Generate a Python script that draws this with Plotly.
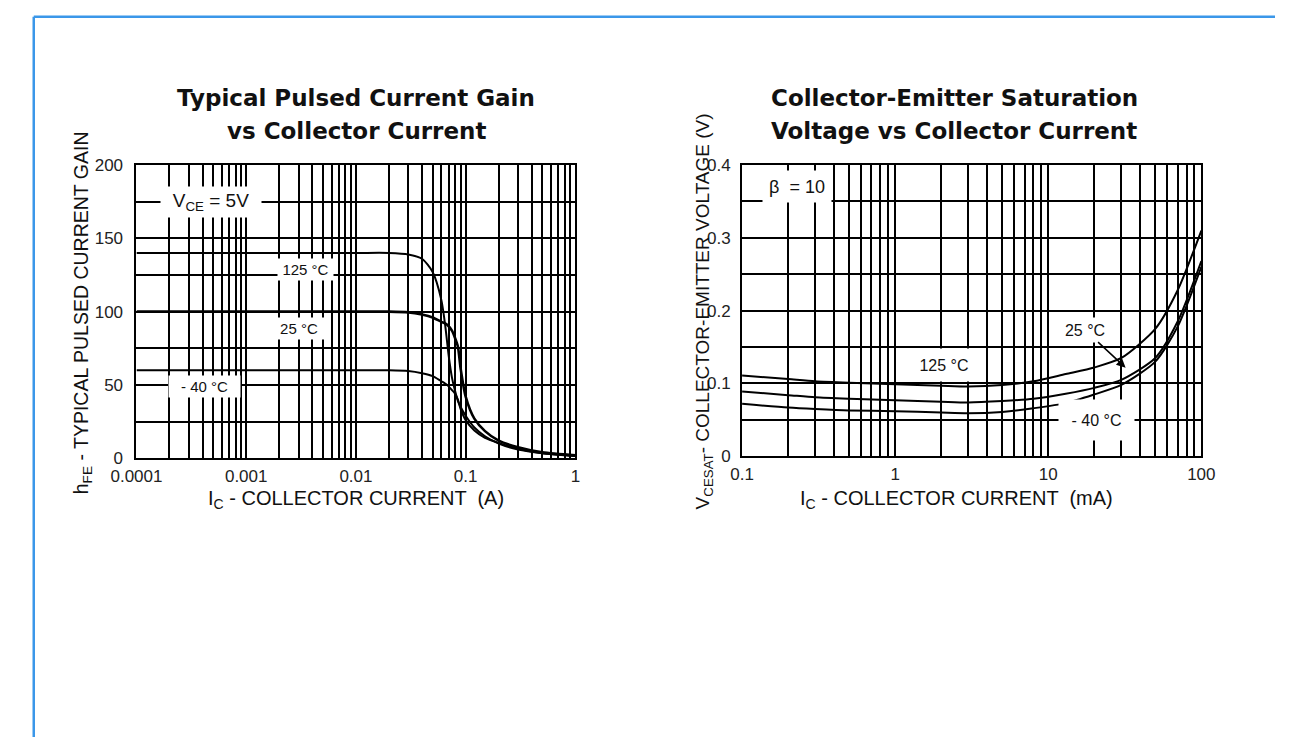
import math
import plotly.graph_objects as go

W, H = 1289, 747

# ---------------- Left chart: hFE vs Ic (A) ----------------
ic_a = [0.0001, 0.001, 0.01, 0.02, 0.03, 0.04, 0.05, 0.06, 0.065, 0.07, 0.075,
        0.08, 0.085, 0.09, 0.1, 0.12, 0.15, 0.2, 0.3, 0.5, 1.0]
hfe_125 = [140, 140, 140, 140, 139, 136, 127, 108, 91, 70, 55,
           46, 39, 35, 29, 21, 15, 10, 6, 3.5, 1.5]
hfe_25 = [100, 100, 100, 100, 99.5, 98, 96, 93, 92, 90, 87,
          82, 76, 61, 42, 27, 18.5, 12, 7.5, 4, 2]
hfe_m40 = [60, 60, 60, 60, 59.5, 58, 56, 52.5, 51, 49, 46.5,
           44, 40, 33.5, 26, 19, 14, 10.5, 6.5, 3.5, 2]

left_xtickvals = [0.0001, 0.001, 0.01, 0.1, 1]
left_xticktext = ["0.0001", "0.001", "0.01", "0.1", "1"]
left_ytickvals = [0, 50, 100, 150, 200]
left_yticktext = ["0", "50", "100", "150", "200"]

# ---------------- Right chart: VCE(sat) vs Ic (mA) ----------------
ic_ma = [0.1, 0.2, 0.3, 0.5, 1, 2, 3, 5, 8, 13, 20, 30, 50, 70, 100]
vce_125 = [0.111, 0.106, 0.103, 0.101, 0.099, 0.097, 0.096, 0.098, 0.103,
           0.113, 0.122, 0.135, 0.175, 0.228, 0.31]
vce_25 = [0.089, 0.084, 0.081, 0.079, 0.077, 0.075, 0.074, 0.076, 0.079,
          0.086, 0.094, 0.105, 0.135, 0.185, 0.268]
vce_m40 = [0.072, 0.067, 0.065, 0.063, 0.062, 0.060, 0.059, 0.061, 0.066,
           0.073, 0.085, 0.098, 0.130, 0.178, 0.26]

right_xtickvals = [0.1, 1, 10, 100]
right_xticktext = ["0.1", "1", "10", "100"]
right_ytickvals = [0, 0.1, 0.2, 0.3, 0.4]
right_yticktext = ["0", "0.1", "0.2", "0.3", "0.4"]

FONT = "Liberation Sans, Arial, sans-serif"
TFONT = "DejaVu Sans, Liberation Sans, sans-serif"


def px(x):
    return x / W


def py(y):
    return 1 - y / H


fig = go.Figure()

line_kw = dict(shape="spline", smoothing=0.7, color="black")
fig.add_trace(go.Scatter(x=ic_a, y=hfe_125, mode="lines", line=dict(width=2, **line_kw),
                         xaxis="x", yaxis="y", showlegend=False))
fig.add_trace(go.Scatter(x=ic_a, y=hfe_25, mode="lines", line=dict(width=2.6, **line_kw),
                         xaxis="x", yaxis="y", showlegend=False))
fig.add_trace(go.Scatter(x=ic_a, y=hfe_m40, mode="lines", line=dict(width=2, **line_kw),
                         xaxis="x", yaxis="y", showlegend=False))

fig.add_trace(go.Scatter(x=ic_ma, y=vce_125, mode="lines", line=dict(width=2, **line_kw),
                         xaxis="x2", yaxis="y2", showlegend=False))
fig.add_trace(go.Scatter(x=ic_ma, y=vce_25, mode="lines", line=dict(width=2, **line_kw),
                         xaxis="x2", yaxis="y2", showlegend=False))
fig.add_trace(go.Scatter(x=ic_ma, y=vce_m40, mode="lines", line=dict(width=2, **line_kw),
                         xaxis="x2", yaxis="y2", showlegend=False))

grid_common = dict(showgrid=True, gridcolor="black", gridwidth=1.5, zeroline=False,
                   showline=True, linecolor="black", linewidth=2, mirror=True,
                   ticks="", ticklen=0, tickfont=dict(family=FONT, size=17, color="#222"))

left_minor_x = [m * 10 ** e for e in range(-4, 0) for m in range(2, 10)]
right_minor_x = [m * 10 ** e for e in range(-1, 2) for m in range(2, 10)]

fig.update_layout(
    width=W, height=H,
    margin=dict(l=0, r=0, t=0, b=0),
    paper_bgcolor="white", plot_bgcolor="white",
    showlegend=False,
    xaxis=dict(type="log", range=[-4, 0], domain=[px(114), px(567)], anchor="y",
               tickvals=left_xtickvals, ticktext=left_xticktext, ticklabelstandoff=1,
               minor=dict(tickvals=left_minor_x, showgrid=True, gridcolor="black", gridwidth=1.5),
               **grid_common),
    yaxis=dict(range=[0, 200], domain=[py(461), py(160)], anchor="x",
               tickvals=left_ytickvals, ticktext=left_yticktext, ticklabelstandoff=8,
               minor=dict(dtick=25, showgrid=True, gridcolor="black", gridwidth=1.5),
               **grid_common),
    xaxis2=dict(type="log", range=[-1, 2], domain=[px(739), px(1213)], anchor="y2",
                tickvals=right_xtickvals, ticktext=right_xticktext, ticklabelstandoff=1,
                minor=dict(tickvals=right_minor_x, showgrid=True, gridcolor="black", gridwidth=1.5),
                **grid_common),
    yaxis2=dict(range=[0, 0.4], domain=[py(459), py(160)], anchor="x2",
                tickvals=right_ytickvals, ticktext=right_yticktext, ticklabelstandoff=6,
                minor=dict(dtick=0.05, showgrid=True, gridcolor="black", gridwidth=1.5),
                **grid_common),
)

ann = []


def title(text, x, y, size=23, bold=True, angle=0, family=TFONT):
    ann.append(dict(text=f"<b>{text}</b>" if bold else text, x=px(x), y=py(y),
                    xref="paper", yref="paper", showarrow=False, textangle=angle,
                    xanchor="center", yanchor="middle",
                    font=dict(family=family, size=size, color="#111")))


title("Typical Pulsed Current Gain", 341, 91)
title("vs Collector Current", 341, 125)
title("Collector-Emitter Saturation", 958, 91)
title("Voltage vs Collector Current", 958, 125)
title("I<sub>C</sub> - COLLECTOR CURRENT  (A)", 341, 503, size=20, bold=False, family=FONT)
title("I<sub>C</sub> - COLLECTOR CURRENT  (mA)", 960, 503, size=20, bold=False, family=FONT)
title("h<sub>FE</sub> - TYPICAL PULSED CURRENT GAIN", 58, 312, size=19.5, bold=False,
      angle=-90, family=FONT)
title("V<sub>CESAT</sub>- COLLECTOR-EMITTER VOLTAGE (V)", 700, 310, size=19, bold=False,
      angle=-90, family=FONT)


def label(text, x, y, w, h, xa="x", ya="y", size=16):
    ann.append(dict(text=text, x=math.log10(x), y=y, xref=xa, yref=ya, showarrow=False,
                    bgcolor="white", width=w, height=h, borderpad=0, align="center",
                    valign="middle", font=dict(family=FONT, size=size, color="#111")))


label("V<sub>CE</sub> = 5V", 4.8e-4, 175, 100, 30, size=19)
label("125 °C", 0.0035, 129, 55, 21, size=15)
label("25 °C", 0.003, 88.7, 50, 21, size=15)
label("- 40 °C", 4.15e-4, 49, 71, 21, size=15)

label("β  = 10", 0.23, 0.3706, 68, 31, "x2", "y2", size=18)
label("125 °C", 2.07, 0.126, 62, 32, "x2", "y2", size=16)
label("- 40 °C", 20.7, 0.0495, 75, 40, "x2", "y2", size=16)

ann.append(dict(text="25 °C", x=math.log10(32), y=0.1217, xref="x2", yref="y2",
                showarrow=True, arrowhead=2, arrowsize=1.2, arrowwidth=1.5, arrowcolor="black",
                ax=-41, ay=-38, bgcolor="white", width=48, height=24, borderpad=0,
                font=dict(family=FONT, size=16, color="#111")))

fig.update_layout(annotations=ann)

BLUE = "#3b97e9"
fig.update_layout(shapes=[
    dict(type="line", xref="paper", yref="paper", x0=px(8), y0=py(8), x1=1, y1=py(8),
         line=dict(color=BLUE, width=2.5)),
    dict(type="line", xref="paper", yref="paper", x0=px(8), y0=py(8), x1=px(8), y1=0,
         line=dict(color=BLUE, width=2.5)),
])

post = (
    "document.documentElement.style.margin='0';"
    "document.body.style.margin='0';"
    "document.body.style.overflow='hidden';"
)

fig.write_html("out.html", config=dict(displayModeBar=False), post_script=post)
